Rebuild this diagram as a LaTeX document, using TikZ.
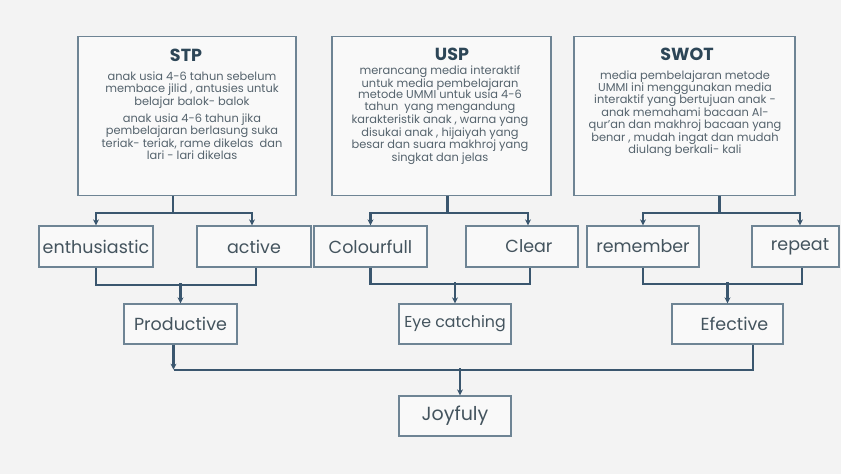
\documentclass[tikz,border=0pt]{standalone}
\usepackage{fontspec}
\setmainfont{Poppins}
\usetikzlibrary{arrows.meta}
\definecolor{bg}{HTML}{F3F3F3}
\definecolor{boxline}{HTML}{6E8494}
\definecolor{connc}{HTML}{3A566E}
\definecolor{bodytxt}{HTML}{55636D}
\definecolor{lbltxt}{HTML}{44545E}
\definecolor{ttlc}{HTML}{2D4657}
\begin{document}
\begin{tikzpicture}[x=1pt,y=-1pt,
  box/.style={draw=boxline, line width=1.3pt, fill=white!50!bg, inner sep=0pt, text=lbltxt, font=\fontsize{17.5}{20}\selectfont},
  ttl/.style={text=ttlc, font=\fontsize{17.5}{20}\selectfont\bfseries, inner sep=0pt},
  body/.style={text=bodytxt, font=\fontsize{11.4}{12.3}\selectfont, align=center, inner sep=0pt, anchor=north},
  ln/.style={draw=connc, line width=2.1pt},
  arr/.style={ln, -{Stealth[length=6pt,width=6pt]}}]
\fill[bg] (0,0) rectangle (841,474);
\useasboundingbox (0,0) rectangle (841,474);
% top boxes
\node[box, minimum width=218pt, minimum height=159pt] (stp) at (187,116) {};
\node[box, minimum width=219pt, minimum height=159pt] (usp) at (441.5,116) {};
\node[box, minimum width=221pt, minimum height=159pt] (swot) at (684.5,116) {};
\node[ttl] (stpt) at (186,55) {STP};
\node[ttl] (uspt) at (452,54) {USP};
\node[ttl] (swott) at (687,54) {SWOT};
\node[body] (stpa) at (192,71.6) {anak usia 4-6 tahun sebelum\\membace jilid , antusies untuk\\belajar balok- balok};
\node[body] (stpb) at (192,113.6) {anak usia 4-6 tahun jika\\pembelajaran berlasung suka\\teriak- teriak, rame dikelas\ \ dan\\lari - lari dikelas};
\node[body, font=\fontsize{11.4}{11.7}\selectfont] (uspa) at (440,65.6) {merancang media interaktif\\untuk media pembelajaran\\metode UMMI untuk usia 4-6\\tahun\ \ yang mengandung\\karakteristik anak , warna yang\\disukai anak , hijaiyah yang\\besar dan suara makhroj yang\\singkat dan jelas};
\node[body, font=\fontsize{11.4}{11.7}\selectfont] (swota) at (685,70.6) {media pembelajaran metode\\UMMI ini menggunakan media\\interaktif yang bertujuan anak -\\anak memahami bacaan Al-\\qur'an dan makhroj bacaan yang\\benar , mudah ingat dan mudah\\diulang berkali- kali};
% second row
\node[box, minimum width=114pt, minimum height=41pt] (enth) at (96,246.5) {enthusiastic};
\node[box, minimum width=114pt, minimum height=41pt] (act) at (254,246.5) {active};
\node[box, minimum width=113pt, minimum height=41pt] (col) at (370.5,246.5) {Colourfull};
\node[box, minimum width=112pt, minimum height=41pt] (clr) at (522,246.5) {\hspace{14pt}Clear};
\node[box, minimum width=112pt, minimum height=41pt] (rem) at (643,246.5) {remember};
\node[box, minimum width=87pt, minimum height=41pt] (rep) at (795.5,246.5) {\hspace{9pt}repeat};
% third row
\node[box, minimum width=113pt, minimum height=40pt] (prod) at (180.5,324) {Productive};
\node[box, minimum width=112pt, minimum height=40pt, font=\fontsize{15.8}{18}\selectfont] (eye) at (455,324) {Eye catching};
\node[box, minimum width=111pt, minimum height=40pt] (efe) at (727.5,324) {\hspace{14pt}Efective};
\node[box, minimum width=112pt, minimum height=40pt, font=\fontsize{19}{22}\selectfont] (joy) at (455,416) {Joyfuly};
% connectors top -> second row
\draw[arr] ([xshift=-14pt]stp.south) -- ++(0,16.5) -| (enth.north);
\draw[arr] ([xshift=-14pt]stp.south) -- ++(0,16.5) -| ([xshift=-2pt]act.north);
\draw[arr] ([xshift=6pt]usp.south) -- ++(0,16.5) -| (col.north);
\draw[arr] ([xshift=6pt]usp.south) -- ++(0,16.5) -| ([xshift=6pt]clr.north);
\draw[arr] ([xshift=35pt]swot.south) -- ++(0,16.5) -| (rem.north);
\draw[arr] ([xshift=35pt]swot.south) -- ++(0,16.5) -| ([xshift=4.5pt]rep.north);
% merges
\draw[ln] (enth.south) -- ++(0,17) -| ([xshift=2pt]act.south);
\draw[arr] ([yshift=20pt]prod.north) -- (prod.north);
\draw[ln] (col.south) -- ++(0,16.5) -| ([xshift=8pt]clr.south);
\draw[arr] ([yshift=21pt]eye.north) -- (eye.north);
\draw[ln] (rem.south) -- ++(0,16.5) -| ([xshift=6.5pt]rep.south);
\draw[arr] ([yshift=21pt]efe.north) -- (efe.north);
% bottom
\draw[ln] ([xshift=25.5pt]efe.south) |- ([xshift=-7pt,yshift=-25pt]prod.south);
\draw[arr] ([xshift=-7pt]prod.south) -- ([xshift=-7pt,yshift=-25pt]prod.south);
\draw[arr] ([xshift=5pt,yshift=27pt]joy.north) -- ([xshift=5pt]joy.north);
\end{tikzpicture}
\end{document}
